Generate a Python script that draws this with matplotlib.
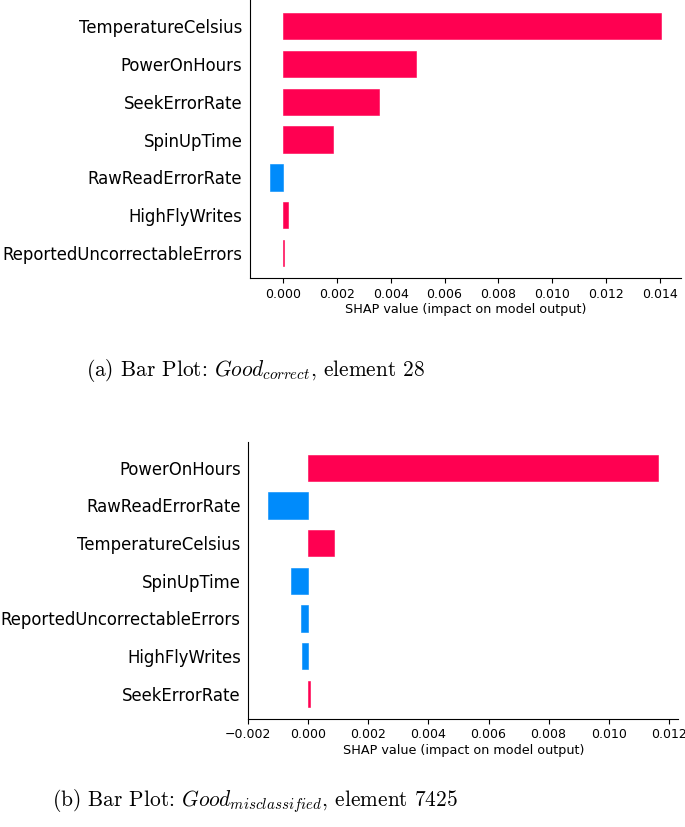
import matplotlib
matplotlib.use('Agg')
import matplotlib.pyplot as plt

# SHAP colours
red = '#ff0051'
blue = '#008bfb'

# (a) Good_correct, element 28  (top to bottom)
features_a = ['TemperatureCelsius', 'PowerOnHours', 'SeekErrorRate', 'SpinUpTime',
              'RawReadErrorRate', 'HighFlyWrites', 'ReportedUncorrectableErrors']
values_a = [0.01405, 0.00494, 0.00356, 0.00186, -0.00051, 0.00017, 0.00004]

# (b) Good_misclassified, element 7425
features_b = ['PowerOnHours', 'RawReadErrorRate', 'TemperatureCelsius', 'SpinUpTime',
              'ReportedUncorrectableErrors', 'HighFlyWrites', 'SeekErrorRate']
values_b = [0.01166, -0.00135, 0.00086, -0.00058, -0.00025, -0.00020, 0.00004]

ticks_a = [0.000, 0.002, 0.004, 0.006, 0.008, 0.010, 0.012, 0.014]
ticks_b = [-0.002, 0.000, 0.002, 0.004, 0.006, 0.008, 0.010, 0.012]

plt.rcParams['mathtext.fontset'] = 'cm'

W, H = 685, 827
fig = plt.figure(figsize=(W / 100, H / 100), dpi=100)


def shap_bar(ax, feats, vals, ticks, xlim):
    n = len(feats)
    ypos = list(range(n - 1, -1, -1))
    colors = [red if v > 0 else blue for v in vals]
    ax.barh(ypos, vals, 0.7, align='center', color=colors,
            edgecolor=colors, linewidth=0.4)
    ax.set_yticks(ypos)
    ax.set_yticklabels(feats, fontsize=11.9)
    ax.yaxis.set_ticks_position('none')
    ax.tick_params(axis='y', pad=2)
    ax.xaxis.set_ticks_position('bottom')
    ax.set_xticks(ticks)
    ax.set_xticklabels(['%.3f' % t if t >= 0 else '\u2212%.3f' % -t for t in ticks])
    ax.tick_params(axis='x', labelsize=9)
    ax.spines['right'].set_visible(False)
    ax.spines['top'].set_visible(False)
    ax.set_xlim(xlim)
    ax.set_ylim(-0.66, n - 1 + 0.69)
    ax.set_xlabel('SHAP value (impact on model output)', fontsize=9.2, labelpad=2)


# top plot
ax1 = fig.add_axes([250 / W, (H - 278) / H, 431 / W, 278 / H])
shap_bar(ax1, features_a, values_a, ticks_a, (-0.00124, 0.0148))

# bottom plot
ax2 = fig.add_axes([248.3 / W, (H - 718.7) / H, 430 / W, 277 / H])
shap_bar(ax2, features_b, values_b, ticks_b, (-0.002, 0.01232))

fig.text(256 / W, 1 - 371 / H, r'(a) Bar Plot: $Good_{correct}$, element 28',
         family='cmr10', fontsize=15.4, ha='center', va='center')
fig.text(255 / W, 1 - 801 / H, r'(b) Bar Plot: $Good_{misclassified}$, element 7425',
         family='cmr10', fontsize=15.4, ha='center', va='center')

fig.savefig('out.png', dpi=100)
